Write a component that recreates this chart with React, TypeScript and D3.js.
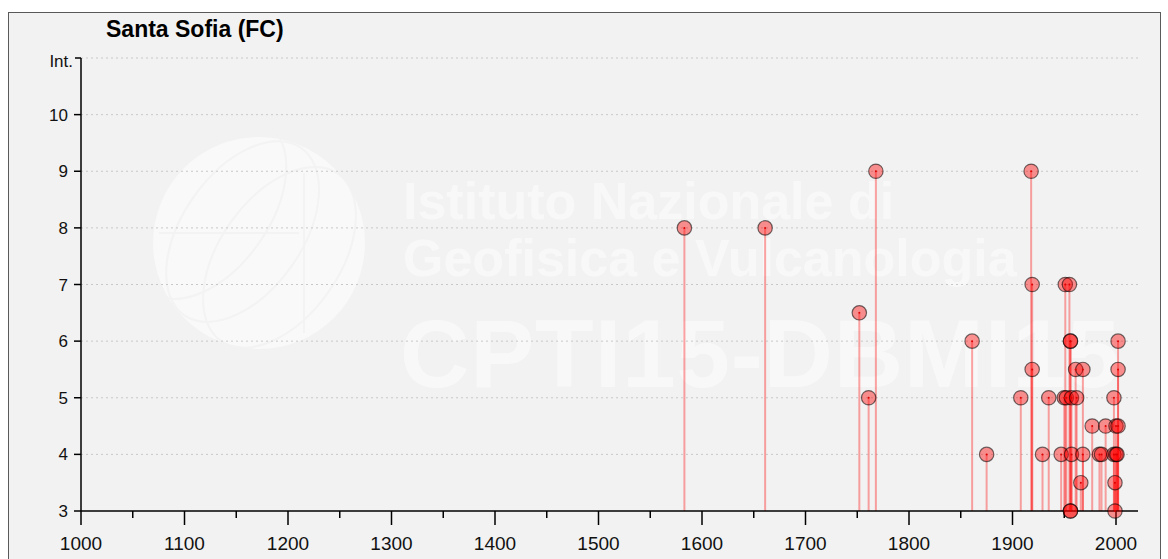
import { useEffect, useRef } from 'react';
import * as d3 from 'd3';

// Santa Sofia (FC) - macroseismic history (year, intensity)
const years = [
  1583, 1661, 1752, 1761, 1768, 1861, 1875, 1908, 1918, 1919, 1919, 1929, 1935, 1947,
  1950, 1951, 1952, 1955, 1956, 1956, 1956, 1956, 1957, 1957, 1961, 1962, 1966, 1968,
  1968, 1977, 1984, 1986, 1990, 1998, 1998, 1999, 1999, 2000, 2000, 2001, 2002, 2002, 2002,
];
const intensities = [
  8, 8, 6.5, 5, 9, 6, 4, 5, 9, 7, 5.5, 4, 5, 4,
  5, 7, 5, 7, 6, 6, 3, 3, 4, 5, 5.5, 5, 3.5, 4,
  5.5, 4.5, 4, 4, 4.5, 5, 4, 3.5, 3, 4.5, 4, 4, 4.5, 6, 5.5,
];
const yTicks = [3, 4, 5, 6, 7, 8, 9, 10];
const xMajorTicks = d3.range(1000, 2001, 100);
const xMinorTicks = d3.range(1050, 2000, 100);
const title = 'Santa Sofia (FC)';
const watermarkLines = ['Istituto Nazionale di', 'Geofisica e Vulcanologia'];
const watermarkCode = 'CPTI15-DBMI15';

const W = 1168;
const H = 559;
const FONT = '"Liberation Sans", Arial, sans-serif';
const BG = '#f2f2f2';

export default function App() {
  const ref = useRef<SVGSVGElement>(null);

  useEffect(() => {
    const svg = d3.select(ref.current);
    svg.selectAll('*').remove();

    const x = d3.scaleLinear().domain([1000, 2000]).range([81, 1116]);
    const y = d3.scaleLinear().domain([3, 11]).range([511, 58]);
    const xEnd = 1138;

    // frame
    svg.append('rect').attr('width', W).attr('height', H).attr('fill', '#fff');
    svg.append('rect')
      .attr('x', 8.5).attr('y', 12.5)
      .attr('width', 1152).attr('height', 560)
      .attr('fill', BG)
      .attr('stroke', '#5a5a5a')
      .attr('stroke-width', 1);

    // watermark: faint globe + institute name
    const wm = svg.append('g');
    const gx = 259, gy = 243, gr = 106;
    wm.append('circle').attr('cx', gx).attr('cy', gy).attr('r', gr)
      .attr('fill', '#fff').attr('opacity', 0.5);
    const arcs = wm.append('g').attr('fill', 'none').attr('stroke', BG).attr('stroke-width', 2).attr('opacity', 0.8);
    [-60, -20, 25].forEach(dx => {
      arcs.append('ellipse').attr('cx', gx + dx).attr('cy', gy).attr('rx', 60).attr('ry', gr - 4)
        .attr('transform', `rotate(35 ${gx} ${gy})`);
    });
    arcs.append('line').attr('x1', gx + 45).attr('x2', gx + 45).attr('y1', gy - 70).attr('y2', gy + 90);
    arcs.append('line').attr('x1', gx - 100).attr('x2', gx + 40).attr('y1', gy - 10).attr('y2', gy - 10);

    const wt = wm.append('g').attr('fill', '#fff').attr('opacity', 0.5)
      .attr('font-family', FONT).attr('font-weight', 'bold');
    watermarkLines.forEach((t, i) => {
      wt.append('text')
        .attr('x', 403).attr('y', 219 + i * 57)
        .attr('font-size', 52)
        .text(t);
    });
    wt.append('text')
      .attr('x', 400).attr('y', 387)
      .attr('font-size', 96)
      .attr('textLength', 720)
      .text(watermarkCode);

    // gridlines
    svg.append('g')
      .selectAll('line')
      .data(d3.range(4, 12))
      .join('line')
      .attr('x1', x(1000)).attr('x2', xEnd)
      .attr('y1', d => y(d)).attr('y2', d => y(d))
      .attr('stroke', '#c8c8c8')
      .attr('stroke-width', 1)
      .attr('stroke-dasharray', '2,3');

    // stems
    const data = years.map((yr, i) => ({ yr, v: intensities[i] }));
    svg.append('g')
      .selectAll('line')
      .data(data)
      .join('line')
      .attr('x1', d => x(d.yr)).attr('x2', d => x(d.yr))
      .attr('y1', d => y(d.v)).attr('y2', y(3))
      .attr('stroke', 'rgba(255,0,0,0.35)')
      .attr('stroke-width', 2);

    // axes
    const ax = svg.append('g').attr('stroke', '#000').attr('stroke-width', 1.5);
    ax.append('line').attr('x1', x(1000)).attr('x2', x(1000)).attr('y1', y(11)).attr('y2', y(3));
    ax.append('line').attr('x1', x(1000) - 6).attr('x2', x(1000)).attr('y1', y(11)).attr('y2', y(11));
    ax.append('line').attr('x1', x(1000)).attr('x2', xEnd).attr('y1', y(3)).attr('y2', y(3));
    yTicks.forEach(t => {
      ax.append('line').attr('x1', x(1000) - 7).attr('x2', x(1000)).attr('y1', y(t)).attr('y2', y(t));
    });
    xMajorTicks.forEach(t => {
      ax.append('line').attr('x1', x(t)).attr('x2', x(t)).attr('y1', y(3)).attr('y2', y(3) + 14);
    });
    xMinorTicks.forEach(t => {
      ax.append('line').attr('x1', x(t)).attr('x2', x(t)).attr('y1', y(3)).attr('y2', y(3) + 7);
    });

    const lbl = svg.append('g').attr('font-family', FONT).attr('fill', '#111');
    yTicks.forEach(t => {
      lbl.append('text')
        .attr('x', 68).attr('y', y(t) + 6)
        .attr('font-size', 17)
        .attr('text-anchor', 'end')
        .text(t);
    });
    lbl.append('text').attr('x', 73).attr('y', y(11) + 9)
      .attr('font-size', 17).attr('text-anchor', 'end').text('Int.');
    xMajorTicks.forEach(t => {
      lbl.append('text')
        .attr('x', x(t)).attr('y', 550)
        .attr('font-size', 19)
        .attr('text-anchor', 'middle')
        .text(t);
    });

    // points
    const pts = svg.append('g');
    pts.selectAll('circle.pt')
      .data(data)
      .join('circle')
      .attr('class', 'pt')
      .attr('cx', d => x(d.yr)).attr('cy', d => y(d.v))
      .attr('r', 7.2)
      .attr('fill', 'rgba(255,0,0,0.42)')
      .attr('stroke', 'rgba(0,0,0,0.55)')
      .attr('stroke-width', 1.2);
    pts.selectAll('circle.dot')
      .data(data)
      .join('circle')
      .attr('class', 'dot')
      .attr('cx', d => x(d.yr)).attr('cy', d => y(d.v))
      .attr('r', 1)
      .attr('fill', '#d00');

    // title
    svg.append('text')
      .attr('x', 106).attr('y', 37)
      .attr('font-family', FONT).attr('font-weight', 'bold')
      .attr('font-size', 23)
      .attr('fill', '#000')
      .text(title);
  }, []);

  return (
    <div style={{ position: 'absolute', left: 0, top: 0 }}>
      <svg ref={ref} width={W} height={H} style={{ display: 'block' }} />
    </div>
  );
}
